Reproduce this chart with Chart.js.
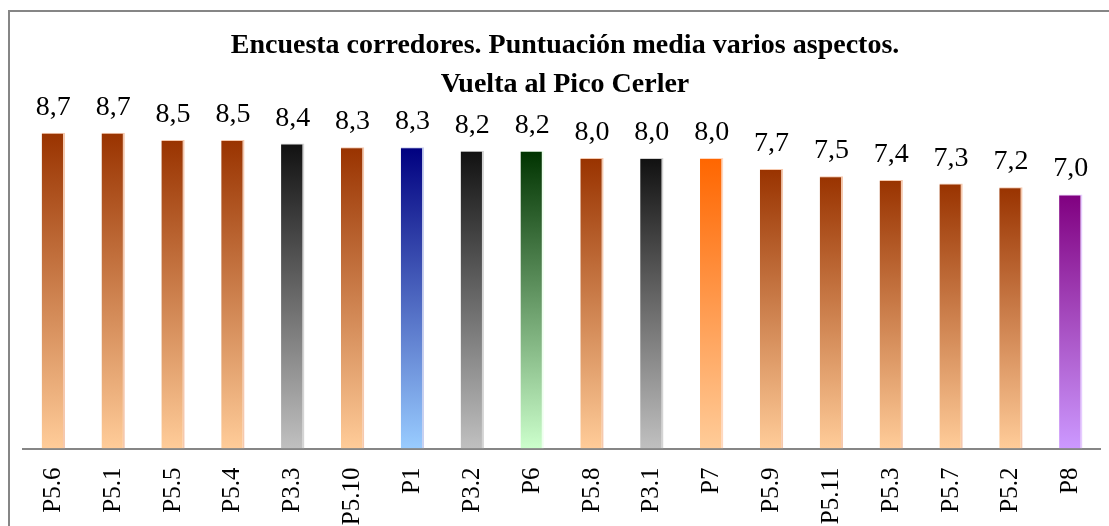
<!DOCTYPE html>
<html>
<head>
<meta charset="utf-8">
<script src="https://cdn.jsdelivr.net/npm/chart.js@4.4.1/dist/chart.umd.min.js"></script>
<style>
html,body{margin:0;padding:0;background:#fff;}
canvas{display:block;}
</style>
</head>
<body>
<canvas id="c" width="1109" height="526"></canvas>
<script>
// ---- data ----
const titleLines = ["Encuesta corredores. Puntuación media varios aspectos.", "Vuelta al Pico Cerler"];
const categories = ["P5.6","P5.1","P5.5","P5.4","P3.3","P5.10","P1","P3.2","P6","P5.8","P3.1","P7","P5.9","P5.11","P5.3","P5.7","P5.2","P8"];
const values = [8.7,8.7,8.5,8.5,8.4,8.3,8.3,8.2,8.2,8.0,8.0,8.0,7.7,7.5,7.4,7.3,7.2,7.0];

// ---- styles (gradient top, bottom, edge) by question group ----
const groupStyles = {
  "P5": ["#993300", "#FFCC99", "#F6C9AE"],
  "P3": ["#111111", "#C0C0C0", "#D4D4D4"],
  "P1": ["#000080", "#99CCFF", "#C8D0F0"],
  "P6": ["#003300", "#CCFFCC", "#EEFFEE"],
  "P7": ["#FF6600", "#FFCC99", "#FFD8C0"],
  "P8": ["#800080", "#CC99FF", "#E6CCFF"]
};
function styleFor(i){ return groupStyles[categories[i].split(".")[0]]; }

function gradFor(ctx){
  const chart = ctx.chart;
  const i = ctx.dataIndex;
  const st = styleFor(i);
  const ys = chart.scales.y;
  if (!chart.chartArea || !ys) return st[0];
  const top = ys.getPixelForValue(values[i]);
  const bot = ys.getPixelForValue(0);
  const g = chart.ctx.createLinearGradient(0, top, 0, bot);
  g.addColorStop(0, st[0]);
  g.addColorStop(1, st[1]);
  return g;
}

const frameAndTitle = {
  id: "frameAndTitle",
  beforeDraw(chart){
    const c = chart.ctx;
    c.save();
    c.fillStyle = "#fff";
    c.fillRect(0,0,chart.width,chart.height);
    c.strokeStyle = "#868686";
    c.lineWidth = 2;
    c.strokeRect(9, 11, 1200, 600);
    c.restore();
  },
  afterDraw(chart){
    const c = chart.ctx;
    c.save();
    c.fillStyle = "#000";
    c.textAlign = "center";
    c.textBaseline = "alphabetic";
    c.font = 'bold 28px "Liberation Serif"';
    c.fillText(titleLines[0], 565, 53);
    c.fillText(titleLines[1], 565, 92);
    c.restore();
  }
};

const valueLabels = {
  id: "valueLabels",
  afterDatasetsDraw(chart){
    const c = chart.ctx;
    const meta = chart.getDatasetMeta(0);
    c.save();
    c.fillStyle = "#000";
    c.textAlign = "center";
    c.textBaseline = "alphabetic";
    c.font = '28px "Liberation Serif"';
    meta.data.forEach((bar, i) => {
      c.fillText(values[i].toFixed(1).replace(".", ","), bar.x, bar.y - 18);
    });
    c.restore();
  }
};

new Chart(document.getElementById("c"), {
  type: "bar",
  data: {
    labels: categories,
    datasets: [{
      data: values,
      backgroundColor: gradFor,
      borderColor: (ctx) => styleFor(ctx.dataIndex)[2],
      borderWidth: {top: 1, right: 2, left: 0, bottom: 0},
      borderSkipped: false,
      categoryPercentage: 1,
      barPercentage: 0.39
    }]
  },
  options: {
    responsive: false,
    animation: false,
    devicePixelRatio: 1,
    layout: { padding: { top: 85.5, left: 23.4, right: 8.3, bottom: 0 } },
    plugins: { legend: { display: false }, title: { display: false }, tooltip: { enabled: false } },
    scales: {
      y: { display: false, min: 0, max: 10 },
      x: {
        afterFit(scale){ scale.height = 77.5; scale.paddingLeft = 0; scale.paddingRight = 0; },
        grid: { display: false, drawTicks: false },
        border: { display: true, color: "#868686", width: 2 },
        ticks: {
          color: "#000",
          font: { family: "Liberation Serif", size: 25 },
          minRotation: 90, maxRotation: 90,
          autoSkip: false,
          padding: 19
        }
      }
    }
  },
  plugins: [frameAndTitle, valueLabels]
});
</script>
</body>
</html>
